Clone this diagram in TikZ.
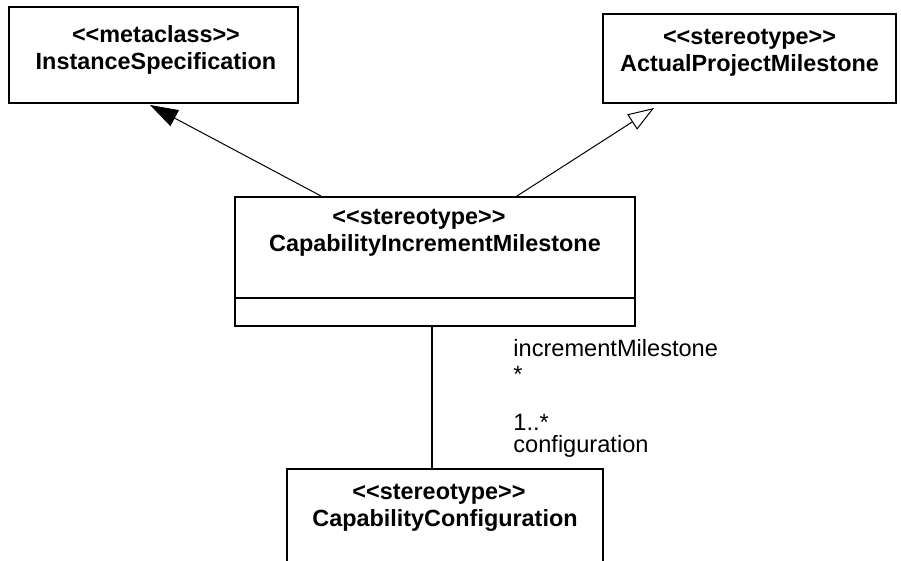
\documentclass[tikz,border=0pt]{standalone}
\usepackage{fontspec}
\setmainfont{Liberation Sans}
\usepackage{xcolor}
\usepackage{tikz}
\usetikzlibrary{arrows.meta}

\newcommand{\umlst}[1]{<{}<#1>{}>}

\begin{document}
\begin{tikzpicture}[x=0.5pt,y=-0.5pt]
  \tikzstyle{umlclass} = [rectangle, draw=black, line width=1pt, inner sep=0pt]
  \tikzstyle{classname} = [align=center, inner sep=0pt, anchor=north, font=\fontsize{11.7}{13.5}\selectfont\bfseries]
  \tikzstyle{role} = [inner sep=0pt, anchor=base west, font=\fontsize{11.8}{13}\selectfont]
  \tikzstyle{instanceof} = [line width=0.5pt, -{Triangle[length=14pt,width=9pt]}]
  \tikzstyle{generalization} = [line width=0.5pt, -{Triangle[open,length=13pt,width=9pt,fill=white]}]
  \tikzstyle{assoc} = [line width=1pt]

  \useasboundingbox (0,0) rectangle (901,561);
  \clip (0,0) rectangle (901,561);

  \node (inst) [umlclass, minimum width=144.5pt, minimum height=48pt] at (153.5,55) {};
  \node (apm) [umlclass, minimum width=146.5pt, minimum height=44.5pt] at (749.5,58.5) {};
  \node (cim) [umlclass, minimum width=200pt, minimum height=64.5pt] at (435,261.5) {};
  \node (config) [umlclass, minimum width=158pt, minimum height=70pt] at (445,539) {};

  \node (instText) [classname] at (156,25) {\umlst{metaclass}\\InstanceSpecification};
  \node (apmText) [classname] at (749.5,29) {\umlst{stereotype}\\ActualProjectMilestone};
  \node (cimText) [classname] at (435,209) {\umlst{stereotype}\hspace*{16pt}\\CapabilityIncrementMilestone};
  \node (configText) [classname] at (445,484) {\umlst{stereotype}\hspace*{6pt}\\CapabilityConfiguration};

  \draw [line width=1pt] ([yshift=14.5pt]cim.south west) -- ([yshift=14.5pt]cim.south east);

  \draw [instanceof] ([xshift=43.5pt]cim.north west) -- ([xshift=71pt,yshift=-0.5pt]inst.south west);
  \draw [generalization] ([xshift=141.5pt]cim.north west) -- ([xshift=26pt,yshift=-2pt]apm.south west);
  \draw [assoc] ([xshift=-1.5pt]cim.south) -- ([xshift=-6.5pt]config.north);

  \node (srcRole) [role] at (513,357) {incrementMilestone};
  \node (srcMult) [role] at (513,383) {*};
  \node (dstMult) [role] at (513,431) {1..*};
  \node (dstRole) [role] at (513,453) {configuration};
\end{tikzpicture}
\end{document}
